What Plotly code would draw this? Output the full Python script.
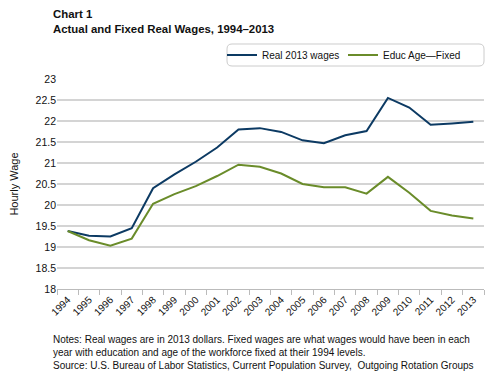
import plotly.graph_objects as go

years = [str(y) for y in range(1994, 2014)]
real_wages = [19.38, 19.27, 19.25, 19.45, 20.40, 20.73, 21.03, 21.37, 21.80, 21.83,
              21.74, 21.54, 21.47, 21.66, 21.76, 22.55, 22.32, 21.91, 21.94, 21.98]
fixed_wages = [19.38, 19.16, 19.03, 19.20, 20.03, 20.26, 20.45, 20.69, 20.96, 20.91,
               20.75, 20.50, 20.42, 20.42, 20.27, 20.67, 20.29, 19.86, 19.75, 19.68]
y_ticks = [18, 18.5, 19, 19.5, 20, 20.5, 21, 21.5, 22, 22.5, 23]
y_tick_labels = ["18", "18.5", "19", "19.5", "20", "20.5", "21", "21.5", "22", "22.5", "23"]

# page has an 8px body margin; figure is sized to fill the window after it
OFF = 8
W, H = 495 - OFF, 377 - OFF
# plot area in page pixels: x 57..484, y 79..289
L, R, T, B = 57 - OFF, 495 - 484, 79 - OFF, 377 - 289

font = "Liberation Sans, Arial, sans-serif"

def px(x):  # page x -> paper
    return (x - OFF - L) / (W - L - R)

def py(y):  # page y -> paper
    return (H - B - (y - OFF)) / (H - T - B)

fig = go.Figure()
fig.add_trace(go.Scatter(x=years, y=real_wages, mode="lines", name="Real 2013 wages",
                         line=dict(color="#0c3a63", width=2), legend="legend"))
fig.add_trace(go.Scatter(x=years, y=fixed_wages, mode="lines", name="Educ Age\u2014Fixed",
                         line=dict(color="#6a8c2a", width=2), legend="legend2"))

lx0, lx1, ty, by = 227, 484, 44, 66
rad = 5
pts = [("M", lx0 + rad, ty), ("L", lx1 - rad, ty), ("Q", lx1, ty, lx1, ty + rad),
       ("L", lx1, by - rad), ("Q", lx1, by, lx1 - rad, by), ("L", lx0 + rad, by),
       ("Q", lx0, by, lx0, by - rad), ("L", lx0, ty + rad), ("Q", lx0, ty, lx0 + rad, ty)]
parts = []
for p in pts:
    s = p[0]
    coords = p[1:]
    for i in range(0, len(coords), 2):
        s += f" {px(coords[i]):.5f},{py(coords[i+1]):.5f}"
    parts.append(s)
path = " ".join(parts) + " Z"

leg_common = dict(orientation="h", yanchor="middle", xanchor="left",
                  bgcolor="rgba(0,0,0,0)", font=dict(size=10, family=font, color="#111111"),
                  itemwidth=30)

fig.update_layout(
    width=W, height=H,
    margin=dict(l=L, r=R, t=T, b=B),
    paper_bgcolor="white", plot_bgcolor="white",
    font=dict(family=font, size=11, color="#222222"),
    showlegend=True,
    legend=dict(x=px(222), y=py(55), **leg_common),
    legend2=dict(x=px(343), y=py(55), **leg_common),
    xaxis=dict(type="category", tickangle=-45, tickson="boundaries", ticks="outside",
               ticklen=5, tickcolor="#bbbbbb", showline=True, linecolor="#bbbbbb",
               linewidth=1, showgrid=False, tickfont=dict(size=10, family=font, color="#111111"),
               range=[-0.5, 19.5], automargin=False),
    yaxis=dict(range=[18, 23], tickvals=y_ticks, ticktext=y_tick_labels,
               showgrid=True, gridcolor="#d4d4d4", gridwidth=1.5, zeroline=False,
               showline=False, ticks="", tickfont=dict(size=10.5, family=font, color="#111111"),
               ticklabelstandoff=0, automargin=False,
               title=dict(text="Hourly Wage", font=dict(size=11, family=font, color="#111111"),
                          standoff=14)),
    shapes=[dict(type="path", path=path, xref="paper", yref="paper",
                 line=dict(color="#cccccc", width=1), fillcolor="rgba(0,0,0,0)")],
)

fig.add_annotation(text="<b>Chart 1</b><br><b>Actual and Fixed Real Wages, 1994\u20132013</b>",
                   xref="paper", yref="paper", x=px(51), y=py(6), xanchor="left", yanchor="top",
                   align="left", showarrow=False, font=dict(size=11.4, color="#111111", family=font))
fig.add_annotation(text="Notes: Real wages are in 2013 dollars. Fixed wages are what wages would have been in each<br>"
                        "year with education and age of the workforce fixed at their 1994 levels.<br>"
                        "Source: U.S. Bureau of Labor Statistics, Current Population Survey,  Outgoing Rotation Groups",
                   xref="paper", yref="paper", x=px(51), y=py(332), xanchor="left", yanchor="top",
                   align="left", showarrow=False, font=dict(size=10, color="#111111", family=font))

fig.write_html("out.html")
